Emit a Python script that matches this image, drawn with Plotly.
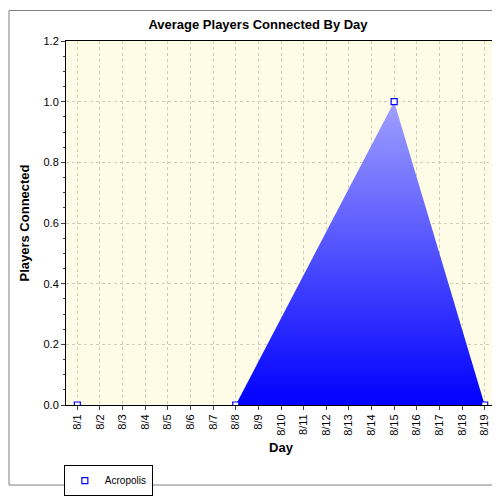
import plotly.graph_objects as go

days = ["8/%d" % d for d in range(1, 20)]
point_days = ["8/1", "8/8", "8/15", "8/19"]
point_vals = [0, 0, 1.0, 0]
area_days = ["8/8", "8/15", "8/19"]
area_vals = [0, 1.0, 0]

fig = go.Figure()
fig.add_trace(go.Scatter(
    x=area_days, y=area_vals, mode="lines", fill="tozeroy",
    line=dict(color="rgba(0,0,255,0)", width=0),
    fillgradient=dict(type="vertical",
                      colorscale=[[0, "#0000ff"], [1, "#a0a0ff"]]),
    showlegend=False, hoverinfo="skip"))
fig.add_trace(go.Scatter(
    x=point_days, y=point_vals, mode="lines+markers", name="Acropolis",
    line=dict(color="rgba(0,0,255,0)", width=0),
    marker=dict(symbol="square", size=6, color="white",
                line=dict(color="#0000ff", width=1.2))))

fig.update_layout(
    width=500, height=500,
    margin=dict(l=58, r=12, t=33, b=85),
    paper_bgcolor="white", plot_bgcolor="#fefce6",
    font=dict(family="Liberation Sans, Arial", size=11, color="black"),
    title=dict(text="<b>Average Players Connected By Day</b>", x=0.5, y=0.967,
               xanchor="center", yanchor="middle", font=dict(size=13)),
    xaxis=dict(type="category", categoryorder="array", categoryarray=days,
               tickvals=days, range=[-0.5, 18.5], tickangle=-90,
               showgrid=True, gridcolor="#d0d0b8", griddash="dot",
               showline=True, linecolor="black", mirror=True,
               ticks="outside", ticklen=4, automargin=False,
               title=dict(text="<b>Day</b>", standoff=8)),
    yaxis=dict(range=[0, 1.2], dtick=0.2, tickformat=".1f",
               showgrid=True, gridcolor="#d0d0b8", griddash="dot",
               showline=True, linecolor="black", mirror=True,
               ticks="outside", ticklen=4, zeroline=False, automargin=False,
               minor=dict(dtick=0.05, ticks="outside", ticklen=2),
               title=dict(text="<b>Players Connected</b>", standoff=10)),
    legend=dict(x=-0.005, y=-0.165, xanchor="left", yanchor="top",
                orientation="h", bordercolor="black", borderwidth=1,
                bgcolor="white", font=dict(size=10),
                itemwidth=30, tracegroupgap=0),
)
fig.add_shape(type="rect", xref="paper", yref="paper",
              x0=-57/430, x1=1+11/430, y0=-84/382, y1=1+32/382,
              line=dict(color="#808080", width=1), layer="below")
fig.write_html("out.html")
